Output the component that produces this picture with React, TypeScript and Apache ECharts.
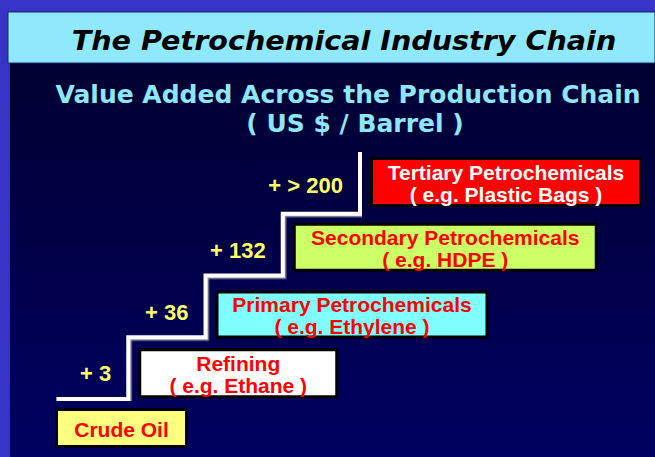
import React, { useEffect, useRef } from "react";
import * as echarts from "echarts";

// ---- data ----
const stageNames = ["Crude Oil", "Refining", "Primary Petrochemicals", "Secondary Petrochemicals", "Tertiary Petrochemicals"];
const stageExamples = ["", "( e.g. Ethane )", "( e.g. Ethylene )", "( e.g. HDPE )", "( e.g. Plastic Bags )"];
const stageLevels = [0, 1, 2, 3, 4];
const valueAddedLabels = ["+ 3", "+ 36", "+ 132", "+ > 200"];
const titleText = "The Petrochemical Industry Chain";
const subtitleLines = ["Value Added Across the Production Chain", "( US $ / Barrel )"];

// ---- styles / layout ----
const boxFills = ["#ffff80", "#ffffff", "#80ffff", "#ccff66", "#ff0000"];
const boxTextColors = ["#ff0000", "#ff0000", "#ff0000", "#ff0000", "#ffffff"];
const boxDx = [4, 10, 10, 10, 10];
const boxDy = [9, 11, 15, 9, 5];
const boxW = [133, 200, 273, 305, 272];
const boxH = [40, 50, 48, 49, 50];
const labelDy = [-26, -25, -25, -28];
const lineStartOffset = 0.07;

export default function App() {
  const ref = useRef<HTMLDivElement>(null);
  useEffect(() => {
    if (!ref.current) return;
    const chart = echarts.init(ref.current, null, { renderer: "svg" });

    const stairData: number[][] = stageLevels.map((l, i) => [i === 0 ? l + lineStartOffset : l, l]);
    const boxData = stageLevels.map((l) => [l, l]);
    const labelData = valueAddedLabels.map((_, i) => [stageLevels[i + 1], stageLevels[i]]);

    chart.setOption({
      animation: false,
      backgroundColor: "#3633c6",
      grid: { left: 51, top: 152, width: 309, height: 247 },
      xAxis: { type: "value", min: 0, max: 4, show: false },
      yAxis: { type: "value", min: 0, max: 4, show: false },
      graphic: [
        {
          type: "rect",
          z: -10,
          shape: { x: 10, y: 12, width: 645, height: 445 },
          style: {
            fill: new echarts.graphic.LinearGradient(0, 0, 0, 1, [
              { offset: 0, color: "#00002a" },
              { offset: 1, color: "#000062" },
            ]),
          },
        },
        {
          type: "rect",
          z: -9,
          shape: { x: 8, y: 12, width: 647, height: 51 },
          style: { fill: "#8fe8fc", stroke: "#1a2a60", lineWidth: 1 },
        },
        {
          type: "text",
          x: 344,
          y: 41,
          scaleX: 1.1,
          style: {
            text: titleText,
            font: 'italic bold 26px "DejaVu Sans", Verdana, sans-serif',
            fill: "#000000",
            align: "center",
            verticalAlign: "middle",
          },
        },
        {
          type: "text",
          x: 348,
          y: 94,
          style: {
            text: subtitleLines[0],
            font: 'bold 25px "DejaVu Sans", Tahoma, sans-serif',
            fill: "#8ee6fa",
            align: "center",
            verticalAlign: "middle",
          },
        },
        {
          type: "text",
          x: 355,
          y: 123,
          style: {
            text: subtitleLines[1],
            font: 'bold 25px "DejaVu Sans", Tahoma, sans-serif',
            fill: "#8ee6fa",
            align: "center",
            verticalAlign: "middle",
          },
        },
      ],
      series: [
        {
          type: "line",
          step: "end",
          data: stairData,
          symbol: "none",
          silent: true,
          lineStyle: {
            color: "#ffffff",
            width: 4,
            join: "miter",
            cap: "butt",
            shadowColor: "#8a8a9a",
            shadowOffsetX: 1.5,
            shadowOffsetY: 1.5,
            shadowBlur: 0,
          },
        },
        {
          type: "custom",
          clip: false,
          data: boxData,
          renderItem: (params: any, api: any) => {
            const i = params.dataIndex;
            const p = api.coord([api.value(0), api.value(1)]);
            const x = p[0] + boxDx[i];
            const y = p[1] + boxDy[i];
            const w = boxW[i];
            const h = boxH[i];
            const text = stageExamples[i] ? stageNames[i] + "\n" + stageExamples[i] : stageNames[i];
            return {
              type: "group",
              children: [
                {
                  type: "rect",
                  shape: { x: x + 1.5, y: y + 1.5, width: w - 3, height: h - 3 },
                  style: { fill: boxFills[i], stroke: "#000000", lineWidth: 3 },
                },
                {
                  type: "text",
                  x: x + w / 2,
                  y: y + h / 2 + 1,
                  style: {
                    text,
                    fill: boxTextColors[i],
                    font: 'bold 21px "Liberation Sans", Arial, sans-serif',
                    align: "center",
                    verticalAlign: "middle",
                    lineHeight: 22,
                  },
                },
              ],
            };
          },
        },
        {
          type: "custom",
          clip: false,
          data: labelData,
          renderItem: (params: any, api: any) => {
            const i = params.dataIndex;
            const p = api.coord([api.value(0), api.value(1)]);
            return {
              type: "text",
              x: p[0] - 17,
              y: p[1] + labelDy[i],
              style: {
                text: valueAddedLabels[i],
                fill: "#ffff66",
                font: 'bold 22px "Liberation Sans", Arial, sans-serif',
                align: "right",
                verticalAlign: "middle",
              },
            };
          },
        },
      ],
    });
    return () => chart.dispose();
  }, []);
  return (
    <div
      ref={ref}
      style={{ position: "fixed", left: 0, top: 0, width: 655, height: 457 }}
    />
  );
}
